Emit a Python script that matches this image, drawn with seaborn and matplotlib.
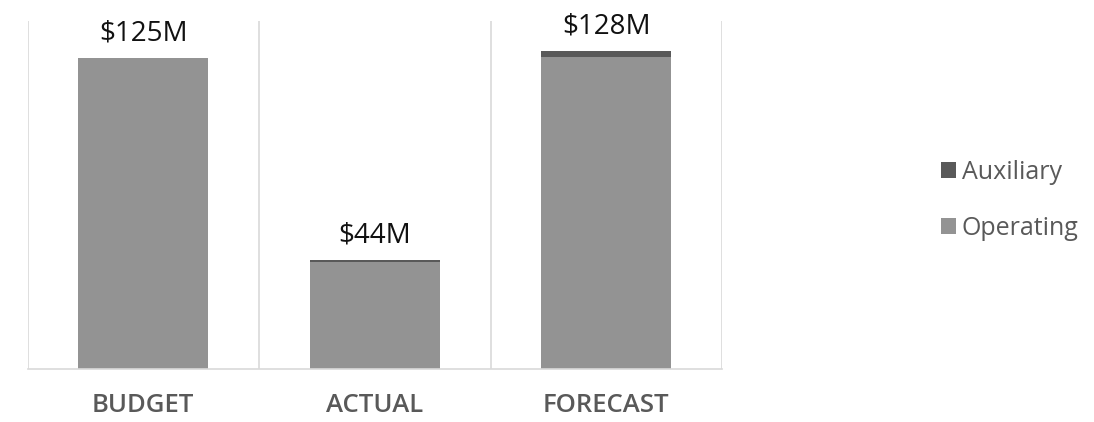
import pandas as pd
import numpy as np
import matplotlib.pyplot as plt
import seaborn as sns

sns.set_style("white")
plt.rcParams['font.family'] = ['Open Sans', 'DejaVu Sans']

# Dados (milhões de dólares)
categories = ['BUDGET', 'ACTUAL', 'FORECAST']
operating = [125, 43, 125.5]
auxiliary = [0, 1, 2.5]
labels = ['$125M', '$44M', '$128M']

COR_OPER = '#939393'
COR_AUX = '#595959'
COR_TXT = '#595959'

df = pd.DataFrame({'categoria': categories, 'operating': operating, 'auxiliary': auxiliary})
df['total'] = df['operating'] + df['auxiliary']

fig = plt.figure(figsize=(10.94, 4.22), dpi=100)
ax = fig.add_axes([27.5 / 1094, 52.7 / 422, 694.5 / 1094, 348.3 / 422])

# barras empilhadas: total (auxiliar) por baixo, operacional por cima
sns.barplot(x='categoria', y='total', data=df, color=COR_AUX, width=0.56,
            ax=ax, label='Auxiliary', saturation=1, linewidth=0)
sns.barplot(x='categoria', y='operating', data=df, color=COR_OPER, width=0.56,
            ax=ax, label='Operating', saturation=1, linewidth=0)

for i, row in df.iterrows():
    ax.text(i, row['total'] + 7, labels[i], ha='center', va='baseline',
            fontsize=20, color='#111111')

ax.set_ylim(0, 140)
ax.set_xlim(-0.5, 2.5)
ax.set_yticks([])
ax.set_xlabel('')
ax.set_ylabel('')

# linhas verticais entre categorias
ax.set_xticks([-0.5, 0.5, 1.5, 2.5], minor=True)
ax.grid(which='minor', axis='x', color='#d9d9d9', linewidth=1.2)
ax.grid(which='major', visible=False)
ax.tick_params(axis='x', which='both', length=0, pad=17)
ax.set_xticks(range(len(categories)))
ax.set_xticklabels(categories, fontsize=18.5, fontweight='semibold', color=COR_TXT)

for s in ['top', 'left', 'right']:
    ax.spines[s].set_visible(False)
ax.spines['bottom'].set_color('#d9d9d9')
ax.spines['bottom'].set_linewidth(1.2)

handles, lbls = ax.get_legend_handles_labels()
if ax.get_legend() is not None:
    ax.get_legend().remove()
leg = fig.legend(handles, lbls, loc='center left', bbox_to_anchor=(918 / 1094, 0.525),
                 frameon=False, fontsize=18, handlelength=0.6, handleheight=0.6,
                 handletextpad=0.25, labelspacing=1.25, labelcolor=COR_TXT)

plt.savefig('out.png', dpi=100)
